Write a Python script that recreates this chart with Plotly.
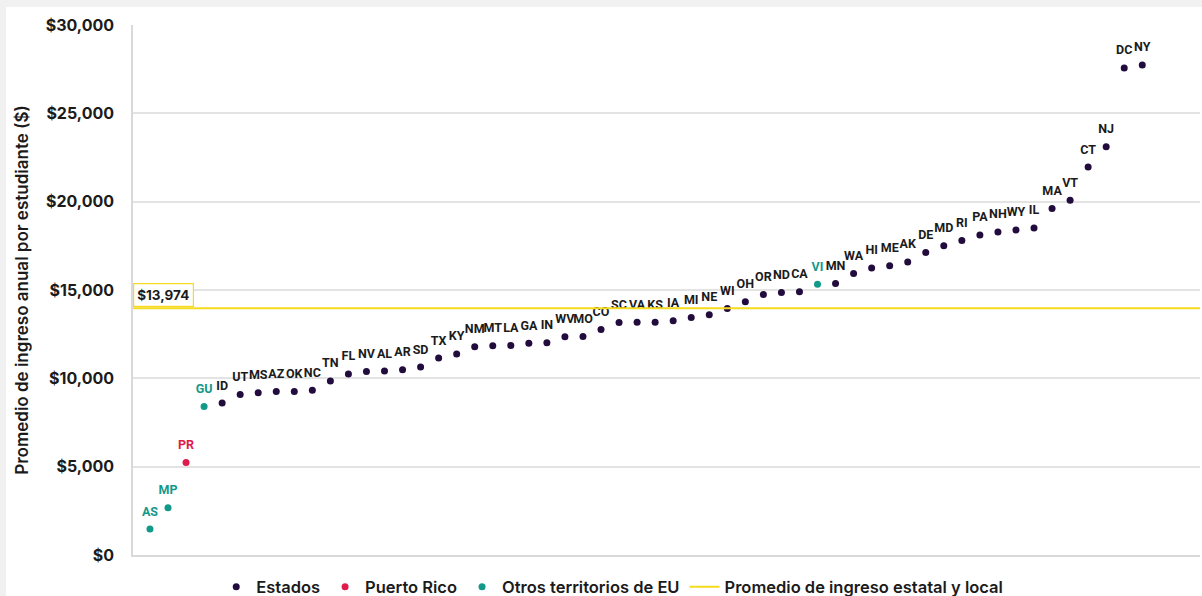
import plotly.graph_objects as go

# Average annual revenue per student, ordered from lowest to highest
codes = ["AS", "MP", "PR", "GU", "ID", "UT", "MS", "AZ", "OK", "NC", "TN", "FL", "NV", "AL",
         "AR", "SD", "TX", "KY", "NM", "MT", "LA", "GA", "IN", "WV", "MO", "CO", "SC", "VA",
         "KS", "IA", "MI", "NE", "WI", "OH", "OR", "ND", "CA", "VI", "MN", "WA", "HI", "ME",
         "AK", "DE", "MD", "RI", "PA", "NH", "WY", "IL", "MA", "VT", "CT", "NJ", "DC", "NY"]
revenue = [1470, 2670, 5240, 8400, 8600, 9080, 9190, 9250, 9260, 9320, 9850, 10250, 10380, 10410,
           10490, 10640, 11150, 11380, 11790, 11850, 11860, 11980, 12010, 12350, 12370, 12770, 13160, 13170,
           13180, 13260, 13450, 13600, 13950, 14330, 14750, 14860, 14900, 15330, 15370, 15930, 16250, 16370,
           16590, 17120, 17500, 17800, 18120, 18290, 18400, 18510, 19610, 20080, 21960, 23110, 27570, 27740]
# Group of each jurisdiction: S = state (incl. DC), P = Puerto Rico, T = other territories
group = ["T", "T", "P", "T", "S", "S", "S", "S", "S", "S", "S", "S", "S", "S",
         "S", "S", "S", "S", "S", "S", "S", "S", "S", "S", "S", "S", "S", "S",
         "S", "S", "S", "S", "S", "S", "S", "S", "S", "T", "S", "S", "S", "S",
         "S", "S", "S", "S", "S", "S", "S", "S", "S", "S", "S", "S", "S", "S"]
state_local_avg = 13974

y_ticks = [0, 5000, 10000, 15000, 20000, 25000, 30000]
y_tick_text = ["$0", "$5,000", "$10,000", "$15,000", "$20,000", "$25,000", "$30,000"]

series = [
    ("S", "Estados", "#220c3e", "#1b1b1b"),
    ("P", "Puerto Rico", "#e01b4c", "#e01b4c"),
    ("T", "Otros territorios de EU", "#13998a", "#13998a"),
]

FONT = "Inter"
LABEL_FONT = "Roboto"
X_RANGE = [-0.94, 58.2]

fig = go.Figure()
for key, name, color, label_color in series:
    idx = [i for i, g in enumerate(group) if g == key]
    xs = idx
    ys = [revenue[i] for i in idx]
    fig.add_trace(go.Scatter(
        x=xs, y=ys,
        mode="markers",
        marker=dict(size=7, color=color),
        name=name,
        text=[codes[i] for i in idx],
        hovertemplate="%{text}: $%{y:,}<extra></extra>",
    ))
    # code labels, lifted above the dot by a larger invisible marker
    fig.add_trace(go.Scatter(
        x=xs, y=ys,
        text=[codes[i] for i in idx],
        mode="markers+text",
        textposition="top center",
        textfont=dict(family=LABEL_FONT, size=12.5, color=label_color, weight=700),
        marker=dict(size=15, opacity=0),
        showlegend=False,
        hoverinfo="skip",
    ))

fig.add_trace(go.Scatter(
    x=X_RANGE,
    y=[state_local_avg, state_local_avg],
    mode="lines",
    line=dict(color="#f6da1c", width=2),
    name="Promedio de ingreso estatal y local",
    hoverinfo="skip",
))

fig.add_annotation(
    x=0, xref="paper", xanchor="left",
    y=state_local_avg, yref="y", yanchor="bottom",
    text=f"${state_local_avg:,}",
    showarrow=False,
    font=dict(family=FONT, size=13.5, color="#1b1b1b", weight=700),
    bgcolor="white",
    bordercolor="#f6da1c",
    borderwidth=1.2,
    borderpad=3,
    yshift=1,
)

# white card on a light grey page
fig.add_shape(
    type="rect", xref="paper", yref="paper", layer="below",
    x0=(6 - 133) / 1067, x1=1.01, y0=-0.1, y1=1 + (25 - 7) / 530,
    fillcolor="white", line=dict(width=0),
)

fig.update_layout(
    width=1202, height=596,
    margin=dict(l=133, r=2, t=25, b=41),
    paper_bgcolor="#f1f1f1",
    plot_bgcolor="white",
    font=dict(family=FONT, color="#1b1b1b"),
    showlegend=True,
    legend=dict(
        orientation="h",
        x=0.078, xanchor="left",
        yref="container", y=9 / 596, yanchor="middle",
        font=dict(family=FONT, size=16.5, color="#1b1b1b", weight=600),
        bgcolor="rgba(0,0,0,0)",
        itemwidth=30,
        traceorder="normal",
    ),
    xaxis=dict(
        range=X_RANGE,
        showticklabels=False,
        showgrid=False,
        zeroline=False,
        showline=True,
        linecolor="#d9d9d9",
        linewidth=1.5,
        fixedrange=True,
    ),
    yaxis=dict(
        range=[0, 30000],
        tickvals=y_ticks,
        ticktext=y_tick_text,
        tickfont=dict(family=FONT, size=16, color="#1b1b1b", weight=700),
        ticklabelstandoff=14,
        showgrid=True,
        gridcolor="#e3e3e3",
        gridwidth=1.5,
        zeroline=False,
        showline=True,
        linecolor="#d9d9d9",
        linewidth=1.5,
        title=dict(
            text="Promedio de ingreso anual por estudiante ($)",
            font=dict(family=FONT, size=17, color="#1b1b1b", weight=600),
            standoff=13,
        ),
        automargin=False,
    ),
)

fig.write_html("out.html")
